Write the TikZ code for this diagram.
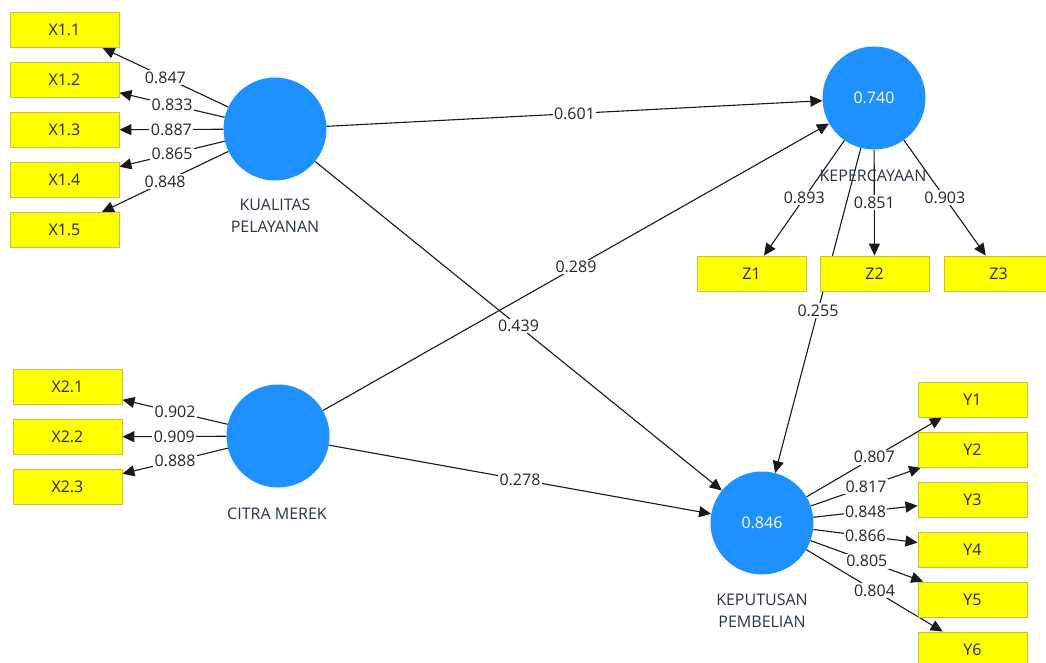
\documentclass[tikz,border=0pt]{standalone}
\usepackage{fontspec}
\setmainfont{Open Sans}
\usetikzlibrary{arrows.meta}
\pgfdeclarelayer{bg}
\pgfsetlayers{bg,main}
\definecolor{lvblue}{RGB}{30,144,255}
\definecolor{mvyellow}{RGB}{255,255,0}
\definecolor{mvedge}{RGB}{196,196,60}
\definecolor{captxt}{RGB}{38,52,72}

\begin{document}
\begin{tikzpicture}[x=1pt,y=-1pt,
  font=\fontsize{16}{22}\selectfont,
  lv/.style={circle, fill=lvblue, minimum size=103pt, inner sep=0pt, text=white},
  mv/.style={rectangle, draw=mvedge, line width=0.9pt, fill=mvyellow, minimum width=109pt, minimum height=35pt, inner sep=0pt, text=black!85},
  lvname/.style={align=center, text=captxt},
  pathline/.style={draw=black!90, line width=1.1pt, -{Triangle[length=12pt,width=11pt]}},
  coef/.style={fill=white, inner sep=1.5pt, text=black!85}]
\useasboundingbox (0,0) rectangle (1046,663);
\clip (0,0) rectangle (1046,663);

\node[lv] (kp) at (275,129) {};
\node[lv] (cm) at (278,436) {};
\node[lv] (kep) at (874,98) {0.740};
\node[lv] (kepu) at (762,523) {0.846};

\node[lvname] (kpname) at (275,216) {KUALITAS\\PELAYANAN};
\node[lvname] (cmname) at (277,514) {CITRA MEREK};
\node[lvname] (kepname) at (873,176) {KEPERCAYAAN};
\node[lvname] (kepuname) at (762,611) {KEPUTUSAN\\PEMBELIAN};

\node[mv] (x11) at (64.5,30) {X1.1};
\node[mv] (x12) at (64.5,80) {X1.2};
\node[mv] (x13) at (64.5,130) {X1.3};
\node[mv] (x14) at (64.5,180) {X1.4};
\node[mv] (x15) at (64.5,230) {X1.5};
\node[mv] (x21) at (67.5,387) {X2.1};
\node[mv] (x22) at (67.5,437) {X2.2};
\node[mv] (x23) at (67.5,487) {X2.3};
\node[mv] (z1) at (751.5,273.5) {Z1};
\node[mv] (z2) at (874.5,273.5) {Z2};
\node[mv] (z3) at (998.5,273.5) {Z3};
\node[mv] (y1) at (972.5,399.5) {Y1};
\node[mv] (y2) at (972.5,449.5) {Y2};
\node[mv] (y3) at (972.5,499.5) {Y3};
\node[mv] (y4) at (972.5,549.5) {Y4};
\node[mv] (y5) at (972.5,599.5) {Y5};
\node[mv] (y6) at (972.5,649.5) {Y6};

\begin{pgfonlayer}{bg}
\draw[pathline] (kp) -- node[coef] {0.847} (x11);
\draw[pathline] (kp) -- node[coef] {0.833} (x12);
\draw[pathline] (kp) -- node[coef] {0.887} (x13);
\draw[pathline] (kp) -- node[coef] {0.865} (x14);
\draw[pathline] (kp) -- node[coef] {0.848} (x15);
\draw[pathline] (cm) -- node[coef] {0.902} (x21);
\draw[pathline] (cm) -- node[coef] {0.909} (x22);
\draw[pathline] (cm) -- node[coef] {0.888} (x23);
\draw[pathline] (kep) -- node[coef] {0.893} (z1);
\draw[pathline] (kep) -- node[coef] {0.851} (z2);
\draw[pathline] (kep) -- node[coef] {0.903} (z3);
\draw[pathline] (kepu) -- node[coef] {0.807} (y1);
\draw[pathline] (kepu) -- node[coef] {0.817} (y2);
\draw[pathline] (kepu) -- node[coef] {0.848} (y3);
\draw[pathline] (kepu) -- node[coef] {0.866} (y4);
\draw[pathline] (kepu) -- node[coef] {0.805} (y5);
\draw[pathline] (kepu) -- node[coef] {0.804} (y6);
\draw[pathline] (kp) -- node[coef] {0.601} (kep);
\draw[pathline] (kp) -- node[coef] {0.439} (kepu);
\draw[pathline] (cm) -- node[coef] {0.289} (kep);
\draw[pathline] (cm) -- node[coef] {0.278} (kepu);
\draw[pathline] (kep) -- node[coef] {0.255} (kepu);
\end{pgfonlayer}
\end{tikzpicture}
\end{document}
